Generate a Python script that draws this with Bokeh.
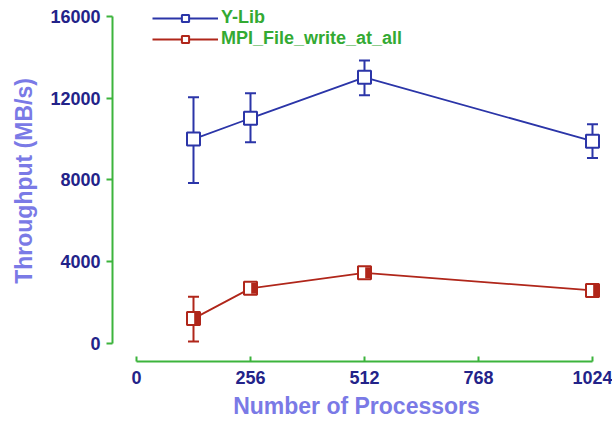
from bokeh.plotting import figure
from bokeh.models import Range1d, Whisker, TeeHead, ColumnDataSource, Legend, LegendItem, FixedTicker
from bokeh.transform import dodge
from bokeh.embed import file_html
from bokeh.resources import INLINE

processors = [128, 256, 512, 1024]
ylib = [10000, 11020, 13020, 9900]
ylib_upper = [12050, 12240, 13850, 10730]
ylib_lower = [7850, 9850, 12150, 9070]
mpi = [1220, 2700, 3460, 2600]
mpi_upper = [2290, 2880, 3600, 2760]
mpi_lower = [100, 2520, 3320, 2440]
x_ticks = [0, 256, 512, 768, 1024]
y_ticks = [0, 4000, 8000, 12000, 16000]

BLUE = "#2b35a8"
RED = "#b0261a"
GREEN = "#3cb43c"
NAVY = "#232389"
LABEL = "#7a7ae6"
FONT = "Liberation Sans"

p = figure(width=612, height=421, output_backend="svg", toolbar_location=None,
           x_range=Range1d(-53.9, 1042), y_range=Range1d(-878, 16780),
           min_border_left=112, min_border_right=12, min_border_top=0, min_border_bottom=59)
p.outline_line_color = None
p.grid.visible = False

s1 = ColumnDataSource(dict(x=processors, y=ylib, up=ylib_upper, lo=ylib_lower))
s2 = ColumnDataSource(dict(x=processors, y=mpi, up=mpi_upper, lo=mpi_lower))

for src, col in ((s1, BLUE), (s2, RED)):
    w = Whisker(source=src, base="x", upper="up", lower="lo", dimension="height",
                line_color=col, line_width=2,
                upper_head=TeeHead(size=11, line_color=col, line_width=2),
                lower_head=TeeHead(size=11, line_color=col, line_width=2))
    p.add_layout(w)

l1 = p.line("x", "y", source=s1, line_color=BLUE, line_width=1.8)
m1 = p.scatter("x", "y", source=s1, marker="square", size=13, fill_color="white",
               line_color=BLUE, line_width=2)
l2 = p.line("x", "y", source=s2, line_color=RED, line_width=1.8)
m2 = p.scatter("x", "y", source=s2, marker="square", size=13, fill_color="white",
               line_color=RED, line_width=2)
dx = 3.2 * (1042 + 53.9) / 488
h2 = p.rect(x=dodge("x", dx, range=p.x_range), y="y", source=s2, width=5, height=11,
            width_units="screen", height_units="screen", fill_color=RED, line_color=None)

legend = Legend(items=[LegendItem(label="Y-Lib", renderers=[l1, m1]),
                       LegendItem(label="MPI_File_write_at_all", renderers=[l2, m2])],
                location=(40, 312), padding=0, margin=0, spacing=0,
                glyph_width=66, glyph_height=18, label_height=18, label_standoff=3,
                border_line_color=None, background_fill_alpha=0,
                label_text_font=FONT, label_text_font_style="bold",
                label_text_font_size="18px", label_text_line_height=1.0,
                label_text_color="#33aa33")
p.add_layout(legend)

for ax in (p.xaxis[0], p.yaxis[0]):
    ax.axis_line_color = GREEN
    ax.axis_line_width = 2
    ax.major_tick_line_color = GREEN
    ax.major_tick_line_width = 2
    ax.minor_tick_line_color = None
    ax.major_label_text_font = FONT
    ax.major_label_text_font_style = "bold"
    ax.major_label_text_font_size = "18px"
    ax.major_label_text_color = NAVY
    ax.axis_label_text_font = FONT
    ax.axis_label_text_font_style = "bold"
    ax.axis_label_text_font_size = "23px"
    ax.axis_label_text_color = LABEL

p.xaxis[0].ticker = FixedTicker(ticks=x_ticks)
p.xaxis[0].bounds = (0, 1024)
p.xaxis[0].major_tick_in = 5
p.xaxis[0].major_tick_out = 0
p.xaxis[0].major_label_standoff = 9
p.xaxis[0].axis_label = "Number of Processors"
p.xaxis[0].axis_label_standoff = 6

p.yaxis[0].ticker = FixedTicker(ticks=y_ticks)
p.yaxis[0].bounds = (0, 16000)
p.yaxis[0].major_tick_in = 0
p.yaxis[0].major_tick_out = 6
p.yaxis[0].major_label_standoff = 6
p.yaxis[0].axis_label = "Throughput (MB/s)"
p.yaxis[0].axis_label_standoff = 10

open("out.html", "w").write(file_html(p, INLINE))
